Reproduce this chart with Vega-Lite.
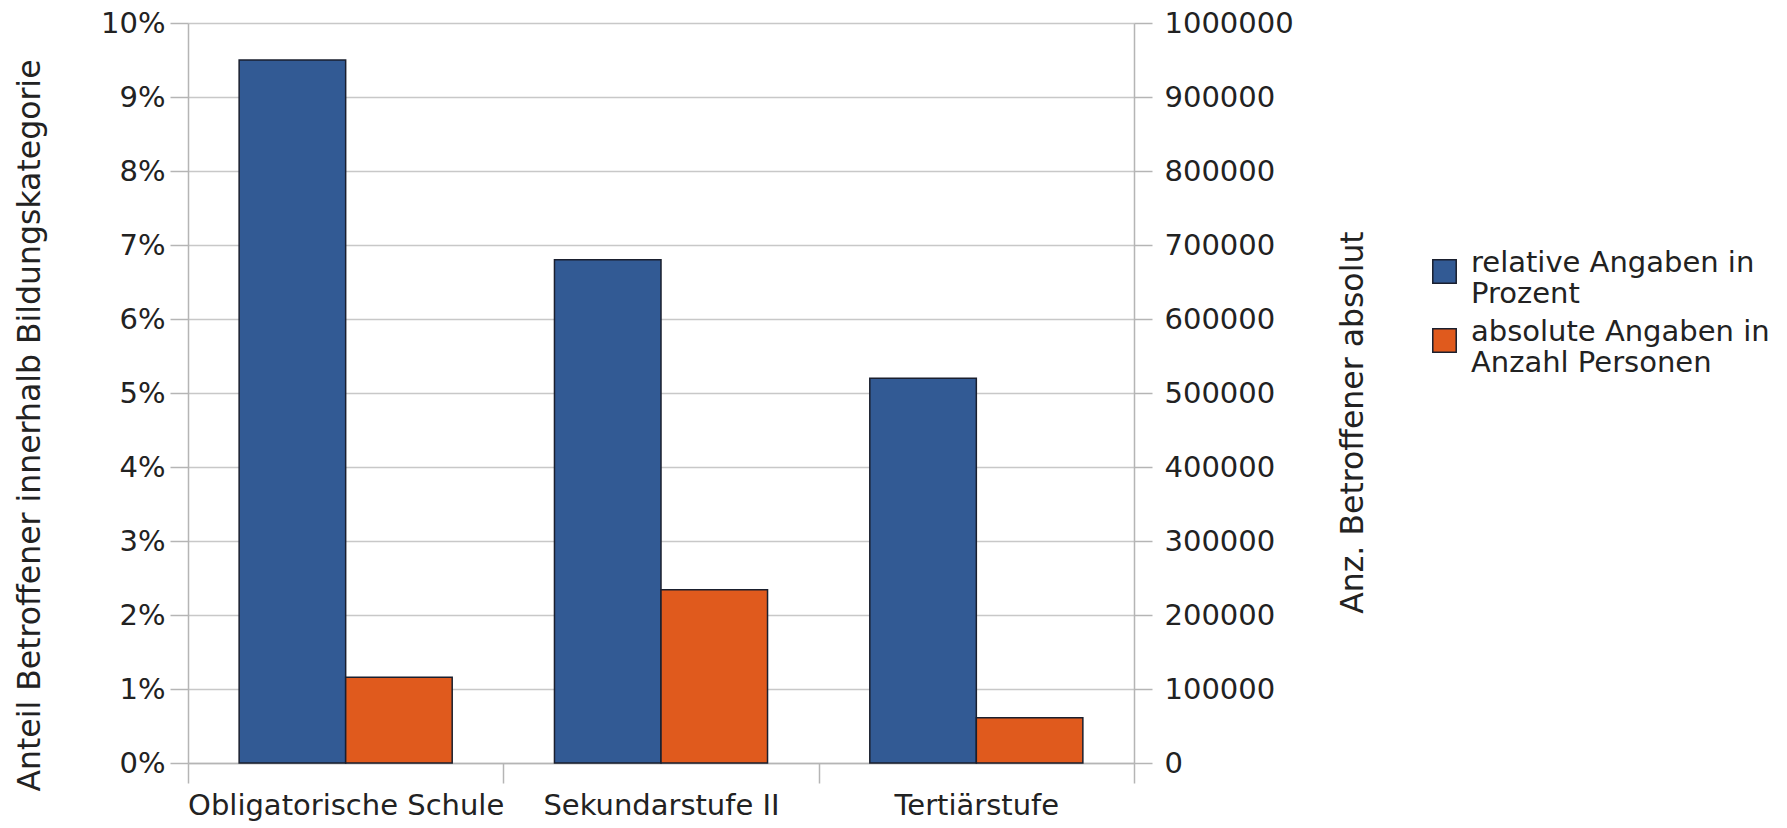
{
  "$schema": "https://vega.github.io/schema/vega-lite/v6.json",
  "width": 946,
  "height": 740,
  "autosize": "none",
  "padding": {"left": 188, "top": 23, "right": 653, "bottom": 65},
  "background": "white",
  "config": {
    "font": "DejaVu Sans",
    "view": {"stroke": null},
    "axis": {"labelFont": "DejaVu Sans", "titleFont": "DejaVu Sans", "labelColor": "#222", "titleColor": "#222", "titleFontWeight": "normal", "labelFontSize": 29, "titleFontSize": 31.5, "domainColor": "#b5b5b5", "tickColor": "#b5b5b5", "gridColor": "#c8c8c8", "domainWidth": 1.5, "tickWidth": 1.5, "gridWidth": 1.5}
  },
  "data": {
    "values": [
      {"cat": "Obligatorische Schule", "series": "relative Angaben in Prozent", "value": 0.095},
      {"cat": "Sekundarstufe II", "series": "relative Angaben in Prozent", "value": 0.068},
      {"cat": "Tertiärstufe", "series": "relative Angaben in Prozent", "value": 0.052},
      {"cat": "Obligatorische Schule", "series": "absolute Angaben in Anzahl Personen", "value": 116000},
      {"cat": "Sekundarstufe II", "series": "absolute Angaben in Anzahl Personen", "value": 234000},
      {"cat": "Tertiärstufe", "series": "absolute Angaben in Anzahl Personen", "value": 61000}
    ]
  },
  "encoding": {
    "x": {
      "field": "cat", "type": "nominal", "sort": null,
      "scale": {"paddingInner": 0, "paddingOuter": 0},
      "axis": {"title": null, "labelAngle": 0, "tickBand": "extent", "tickSize": 20, "labelPadding": 8, "labelLimit": 500, "grid": false}
    },
    "xOffset": {
      "field": "series", "type": "nominal",
      "scale": {"domain": ["relative Angaben in Prozent", "absolute Angaben in Anzahl Personen"], "paddingInner": 0, "paddingOuter": 0.48}
    },
    "color": {
      "field": "series", "type": "nominal",
      "scale": {"domain": ["relative Angaben in Prozent", "absolute Angaben in Anzahl Personen"], "range": ["#325a94", "#e05a1d"]},
      "legend": {
        "title": null, "orient": "none", "legendX": 1242, "legendY": 234,
        "symbolType": "square", "symbolSize": 550, "symbolStrokeColor": "#1a1f2e", "symbolStrokeWidth": 1.5, "symbolOpacity": 1,
        "labelFont": "DejaVu Sans", "labelFontSize": 29, "labelColor": "#222", "labelBaseline": "alphabetic", "labelOffset": 12, "labelLineHeight": 37,
        "labelLimit": 500, "rowPadding": 8,
        "labelExpr": "datum.label == 'relative Angaben in Prozent' ? ['relative Angaben in', 'Prozent'] : ['absolute Angaben in', 'Anzahl Personen']"
      }
    }
  },
  "layer": [
    {
      "transform": [{"filter": "datum.series == 'relative Angaben in Prozent'"}],
      "mark": {"type": "bar", "stroke": "#1a1f2e", "strokeWidth": 1.5},
      "encoding": {
        "y": {
          "field": "value", "type": "quantitative",
          "scale": {"domain": [0, 0.1], "nice": false},
          "axis": {"orient": "left", "format": ".0%", "values": [0, 0.01, 0.02, 0.03, 0.04, 0.05, 0.06, 0.07, 0.08, 0.09, 0.1], "tickSize": 18, "labelPadding": 5, "grid": true,
            "title": "Anteil Betroffener innerhalb Bildungskategorie", "titleX": -158, "titleY": 402, "titleAngle": -90, "titleAlign": "center", "titleBaseline": "middle"}
        }
      }
    },
    {
      "transform": [{"filter": "datum.series == 'absolute Angaben in Anzahl Personen'"}],
      "mark": {"type": "bar", "stroke": "#1a1f2e", "strokeWidth": 1.5},
      "encoding": {
        "y": {
          "field": "value", "type": "quantitative",
          "scale": {"domain": [0, 1000000], "nice": false},
          "axis": {"orient": "right", "format": "d", "values": [0, 100000, 200000, 300000, 400000, 500000, 600000, 700000, 800000, 900000, 1000000], "tickSize": 18, "labelPadding": 12, "grid": false,
            "title": "Anz. Betroffener absolut", "titleX": 219, "titleY": 399, "titleAngle": -90, "titleAlign": "center", "titleBaseline": "middle"}
        }
      }
    }
  ],
  "resolve": {"scale": {"y": "independent"}}
}
